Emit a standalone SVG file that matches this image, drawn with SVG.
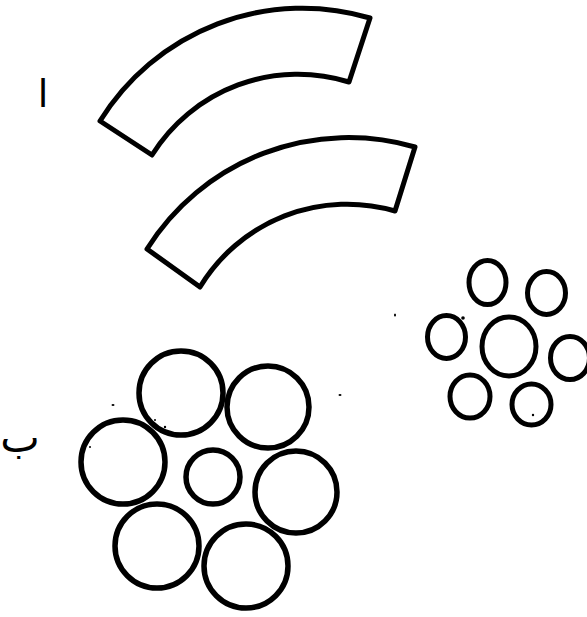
<svg xmlns="http://www.w3.org/2000/svg" width="587" height="617" viewBox="0 0 587 617">
<style>
.s{fill:none;stroke:#000;stroke-width:5;stroke-linejoin:round}
.c{fill:none;stroke:#000;stroke-width:5.5}
.m{fill:none;stroke:#000;stroke-width:5}
.t{font-family:"DejaVu Sans","Noto Sans",sans-serif;fill:#000;text-anchor:middle}
.d{fill:#000}
</style>
<rect width="587" height="617" fill="#fff"/>
<g id="label-a"><text class="t" x="43" y="107" font-size="38">ا</text></g>
<g id="label-b"><text class="t" x="20" y="452" font-size="42">ب</text></g>
<g id="arc-top"><path class="s" d="M100,121 A238,238 0 0 1 370,18 L349,82 A172,172 0 0 0 152,155 Z"/></g>
<g id="arc-bottom"><path class="s" d="M147,249 A238,238 0 0 1 415,147 L395,211 A172,172 0 0 0 200,287 Z"/></g>
<g id="cluster-large">
<circle class="c" cx="181" cy="393" r="42"/>
<circle class="c" cx="268" cy="407" r="41"/>
<circle class="c" cx="123" cy="462" r="42"/>
<circle class="c" cx="296" cy="492" r="41"/>
<circle class="c" cx="157" cy="546" r="42"/>
<circle class="c" cx="246" cy="566" r="42"/>
<circle class="c" cx="213" cy="477" r="27"/>
</g>
<g id="cluster-small">
<ellipse class="m" cx="487.5" cy="282.5" rx="18.5" ry="22"/>
<ellipse class="m" cx="546.5" cy="293" rx="19" ry="21.5"/>
<ellipse class="m" cx="446.5" cy="337" rx="19" ry="21.5"/>
<ellipse class="m" cx="509" cy="346.5" rx="27" ry="29.5"/>
<ellipse class="m" cx="570" cy="358" rx="19.5" ry="21.5"/>
<ellipse class="m" cx="470" cy="396.5" rx="20" ry="21.5"/>
<ellipse class="m" cx="531.5" cy="404.5" rx="19.5" ry="20.5"/>
</g>
<g id="specks">
<ellipse class="d" cx="395" cy="315" rx="1" ry="1.5"/>
<ellipse class="d" cx="113" cy="405" rx="1.5" ry="1"/>
<ellipse class="d" cx="340" cy="395" rx="1.5" ry="1"/>
<circle class="d" cx="463" cy="318" r="1.8"/>
<circle class="d" cx="533" cy="415" r="1.2"/>
<circle class="d" cx="90" cy="447" r="1"/>
<circle class="d" cx="155" cy="420" r="1"/>
<circle class="d" cx="165" cy="427" r="1.2"/>
</g>
</svg>
